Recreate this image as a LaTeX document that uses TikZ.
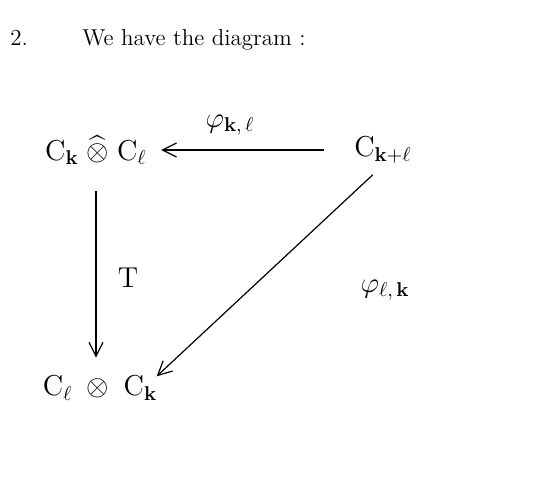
\documentclass[tikz,border=0pt]{standalone}
\usepackage{amsmath}
\usepackage{amssymb}
\usepackage{tikz}
\usetikzlibrary{arrows.meta}

\begin{document}
\begin{tikzpicture}[
    x=0.5pt, y=-0.5pt,
    head/.style={anchor=base west, inner sep=0pt, font=\fontsize{11.5}{13}\selectfont},
    obj/.style={inner sep=1pt, font=\Large},
    lbl/.style={inner sep=1pt, font=\Large},
    arr/.style={-{Straight Barb[length=7pt,width=7pt]}, semithick},
]
\useasboundingbox (0,0) rectangle (556,487);

% heading
\node[head] (num)  at (10,45) {2.};
\node[head] (line) at (82,45) {We have the diagram :};

% objects
\node[obj] (tl) at (96,150) {$\mathrm{C}_{\mathbf{k}}\;\widehat{\otimes}\;\mathrm{C}_{\ell}$};
\node[obj] (tr) at (383,150) {$\mathrm{C}_{\mathbf{k}+\ell}$};
\node[obj] (bl) at (100,388) {$\mathrm{C}_{\ell}\;\otimes\;\mathrm{C}_{\mathbf{k}}$};

% maps
\draw[arr, shorten <=14pt, shorten >=6pt] (tr) -- (tl);
\draw[arr, shorten <=12pt, shorten >=8pt] (tl.south) -- (tl.south |- bl.north);
\draw[arr, shorten <=7pt, shorten >=-2pt] (tr.south) -- (bl.north east);

% labels
\node[lbl] (phi1) at (230,125) {$\varphi_{\mathbf{k},\,\ell}$};
\node[lbl] (t)    at (128,278) {$\mathrm{T}$};
\node[lbl] (phi2) at (385,290) {$\varphi_{\ell,\,\mathbf{k}}$};
\end{tikzpicture}
\end{document}
